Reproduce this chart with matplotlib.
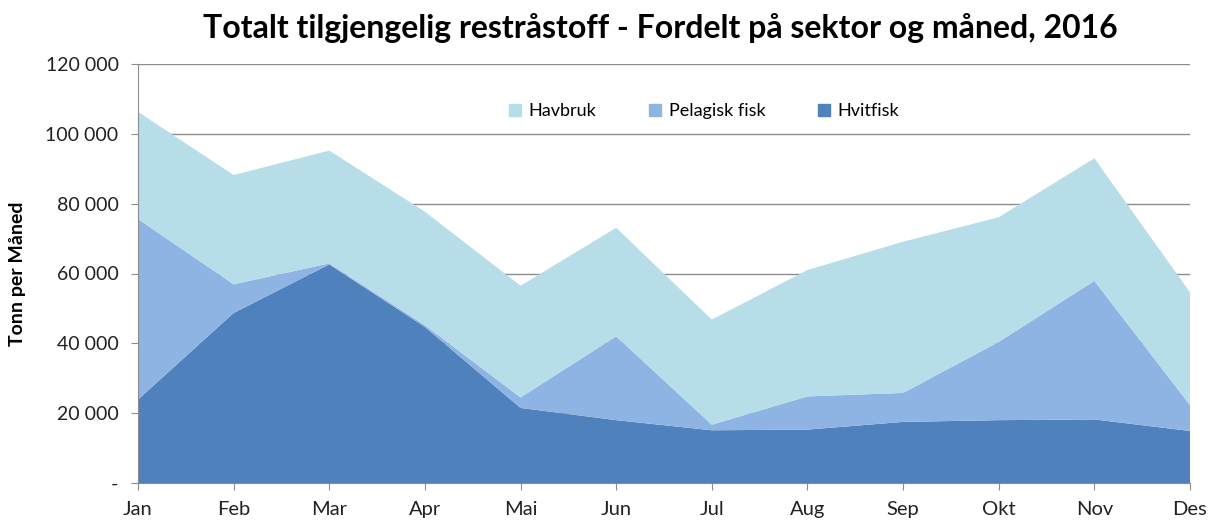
import matplotlib.pyplot as plt
from matplotlib.patches import Patch
from matplotlib.ticker import FuncFormatter

plt.rcParams['font.family'] = ['Lato', 'DejaVu Sans']

months = ['Jan', 'Feb', 'Mar', 'Apr', 'Mai', 'Jun', 'Jul', 'Aug', 'Sep', 'Okt', 'Nov', 'Des']
hvitfisk = [23900, 48700, 62600, 44700, 21500, 18000, 15100, 15300, 17500, 18000, 18200, 14900]
pelagisk = [51700, 8200, 300, 500, 3000, 24000, 1600, 9500, 8300, 22400, 39700, 7400]
havbruk = [30700, 31300, 32300, 32500, 32000, 31100, 30100, 36200, 43300, 35700, 35100, 32300]

series = ['Hvitfisk', 'Pelagisk fisk', 'Havbruk']
colors = ['#4F81BD', '#8EB4E3', '#B7DDE8']


def fmt(v, pos):
    if v == 0:
        return '-'
    return f'{int(v):,}'.replace(',', ' ')


fig = plt.figure(figsize=(12.08, 5.21), dpi=100)
ax = fig.add_axes([138 / 1208, 38 / 521, 1052 / 1208, 419 / 521])

x = list(range(len(months)))
ax.stackplot(x, hvitfisk, pelagisk, havbruk, colors=colors, zorder=2)

ax.set_xlim(0, len(months) - 1)
ax.set_ylim(0, 120000)
ax.set_yticks(range(0, 120001, 20000))
ax.yaxis.set_major_formatter(FuncFormatter(fmt))
ax.set_xticks(x)
ax.set_xticklabels(months)

ax.grid(axis='y', color='#8c8c8c', linewidth=1, zorder=1)
ax.set_axisbelow(True)
for s in ['top', 'right']:
    ax.spines[s].set_visible(False)
for s in ['left', 'bottom']:
    ax.spines[s].set_color('#8c8c8c')
ax.tick_params(axis='both', colors='#8c8c8c', labelcolor='#222222', labelsize=14, length=5, direction='out')
ax.tick_params(axis='x', pad=8, labelsize=14.5)
ax.tick_params(axis='y', pad=9)

ax.set_ylabel('Tonn per Måned', fontsize=14, fontweight='bold', labelpad=14)
fig.suptitle('Totalt tilgjengelig restråstoff - Fordelt på sektor og måned, 2016',
             fontsize=23, fontweight='bold', y=0.975, x=0.547)

handles = [Patch(color=colors[2]), Patch(color=colors[1]), Patch(color=colors[0])]
ax.legend(handles, ['Havbruk', 'Pelagisk fisk', 'Hvitfisk'], loc='upper center',
          bbox_to_anchor=(0.538, 0.945), ncol=3, frameon=False, fontsize=13,
          handlelength=0.7, handleheight=0.7, handletextpad=0.4, columnspacing=2.9)

fig.savefig('out.png', dpi=100, facecolor='white')
